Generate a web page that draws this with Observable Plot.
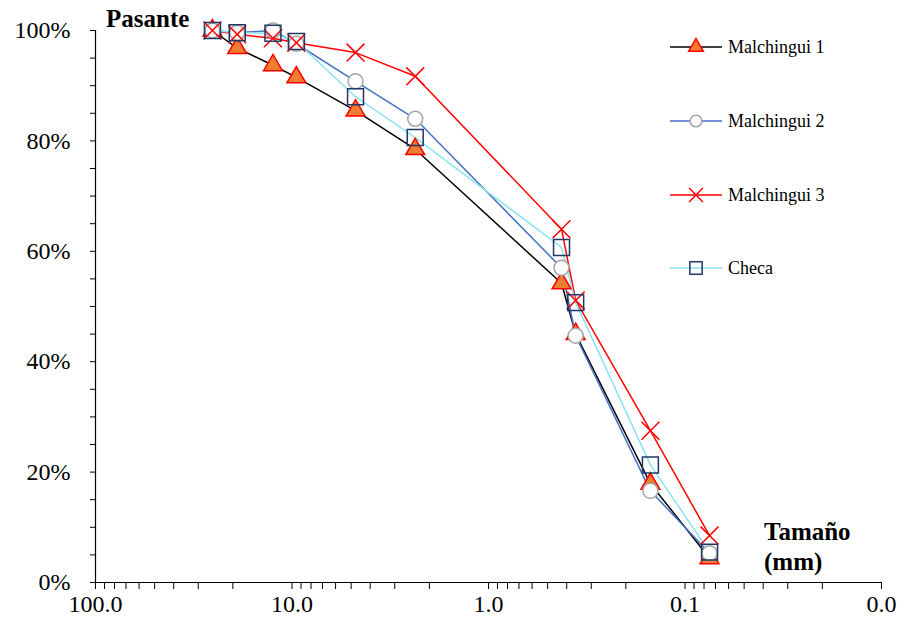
<!DOCTYPE html>
<html>
<head>
<meta charset="utf-8">
<script src="https://cdn.jsdelivr.net/npm/d3@7"></script>
<script src="https://cdn.jsdelivr.net/npm/@observablehq/plot@0.6"></script>
<style>
  html, body { margin: 0; padding: 0; background: #fff; }
  #wrap { position: relative; width: 901px; height: 627px; font-family: "Liberation Serif", "DejaVu Serif", serif; }
  #wrap svg text { font-family: "Liberation Serif", "DejaVu Serif", serif !important; }
  .title { position: absolute; font-weight: bold; font-size: 25px; color: #000; line-height: 30px; }
  #legend { position: absolute; left: 668px; top: 0; }
  .lg { position: absolute; left: 0; width: 230px; height: 24px; display: flex; align-items: center; font-size: 18px; color: #000; white-space: nowrap; }
  .lg svg { margin-right: 4px; }
</style>
</head>
<body>
<div id="wrap"></div>
<script>
// ---- data ----
const sizes = [25.4, 19.0, 12.5, 9.5, 4.75, 2.36, 0.425, 0.36, 0.15, 0.075];
const malchingui1 = [100, 96.8, 93.7, 91.5, 85.5, 78.5, 54.2, 45.0, 17.9, 4.4];
const malchingui2 = [100, 99.6, 100, 97.6, 90.8, 84.0, 57.0, 44.7, 16.6, 5.3];
const malchingui3 = [100, 99.3, 98.6, 97.8, 96.0, 91.7, 64.0, 51.1, 27.5, 8.5];
const checa = [100, 99.6, 99.5, 98.0, 88.0, 80.6, 60.7, 50.7, 21.3, 5.5];
const seriesNames = ["Malchingui 1", "Malchingui 2", "Malchingui 3", "Checa"];
const xMajorTicks = [100, 10, 1, 0.1, 0.01];
const xTickLabels = ["100.0", "10.0", "1.0", "0.1", "0.0"];
const yMajorTicks = [0, 20, 40, 60, 80, 100];
const yTickLabels = ["0%", "20%", "40%", "60%", "80%", "100%"];

// ---- styles ----
const styles = {
  "Malchingui 1": {line: "#000000", symbol: "triangle", fill: "#ED7D31", stroke: "#FF0000", r: 7},
  "Malchingui 2": {line: "#4472C4", symbol: "circle", fill: "#FFFFFF", stroke: "#A6A6A6", r: 7.5},
  "Malchingui 3": {line: "#FF0000", symbol: "times", fill: "none", stroke: "#FF0000", r: 8.2},
  "Checa": {line: "#8EE3EF", symbol: "square", fill: "none", stroke: "#203864", r: 9}
};

const allValues = [malchingui1, malchingui2, malchingui3, checa];
const rows = [];
seriesNames.forEach((s, i) => sizes.forEach((x, j) => rows.push({series: s, size: x, pct: allValues[i][j]})));

// minor ticks
const xTicks = [];
for (let e = -2; e <= 1; e++) for (let k = 1; k <= 9; k++) xTicks.push(k * Math.pow(10, e));
xTicks.push(100);
const yTicks = d3.range(0, 101, 5);

const serif = "Liberation Serif";
const lineMarks = seriesNames.map(s => Plot.line(rows.filter(d => d.series === s), {x: "size", y: "pct", stroke: styles[s].line, strokeWidth: 1.5}));
const dotMarks = seriesNames.map(s => Plot.dot(rows.filter(d => d.series === s), {
  x: "size", y: "pct", symbol: styles[s].symbol, r: styles[s].r,
  fill: styles[s].fill, stroke: styles[s].stroke, strokeWidth: 1.5
}));

const chart = Plot.plot({
  width: 901, height: 627,
  marginLeft: 95, marginRight: 20, marginTop: 30, marginBottom: 45,
  style: {fontFamily: serif, fontSize: "24px", color: "#000", background: "#fff", overflow: "visible"},
  x: {type: "log", domain: [100, 0.01]},
  y: {domain: [0, 100]},
  marks: [
    Plot.axisY({ticks: yTicks, tickFormat: d => { const i = yMajorTicks.indexOf(d); return i >= 0 ? yTickLabels[i] : ""; },
      tickSize: 5, tickPadding: 20, label: null, fontSize: 24, fontFamily: serif, stroke: "#000"}),
    Plot.axisX({ticks: xTicks, tickFormat: d => { const i = xMajorTicks.findIndex(v => Math.abs(v - d) < 1e-9); return i >= 0 ? xTickLabels[i] : ""; },
      tickSize: 7, tickPadding: 5, label: null, fontSize: 24, fontFamily: serif, stroke: "#000"}),
    Plot.ruleX([100], {stroke: "#000", strokeWidth: 1.2}),
    Plot.ruleY([0], {stroke: "#000", strokeWidth: 1.2}),
    ...lineMarks,
    ...dotMarks
  ]
});

const wrap = document.getElementById("wrap");
wrap.appendChild(chart);

// titles
const t1 = document.createElement("div");
t1.className = "title"; t1.textContent = "Pasante";
t1.style.left = "106px"; t1.style.top = "4px";
wrap.appendChild(t1);
const t2 = document.createElement("div");
t2.className = "title"; t2.innerHTML = "Tamaño<br>(mm)";
t2.style.left = "764px"; t2.style.top = "517px";
wrap.appendChild(t2);

// legend
const legend = document.createElement("div");
legend.id = "legend";
wrap.appendChild(legend);
const legendY = [47, 121, 195, 268];
const symMap = {triangle: d3.symbolTriangle, circle: d3.symbolCircle, times: d3.symbolTimes, square: d3.symbolSquare};
seriesNames.forEach((s, i) => {
  const st = styles[s];
  const row = document.createElement("div");
  row.className = "lg";
  row.style.top = (legendY[i] - 12) + "px";
  const svg = d3.create("svg").attr("width", 56).attr("height", 24);
  svg.append("line").attr("x1", 2).attr("x2", 54).attr("y1", 12).attr("y2", 12).attr("stroke", st.line).attr("stroke-width", 1.5);
  const size = st.r * st.r * Math.PI * 0.6;
  svg.append("path").attr("d", d3.symbol(symMap[st.symbol], size)()).attr("transform", "translate(28,12)")
    .attr("fill", st.fill).attr("stroke", st.stroke).attr("stroke-width", 1.5);
  row.appendChild(svg.node());
  const span = document.createElement("span");
  span.textContent = s;
  row.appendChild(span);
  legend.appendChild(row);
});
</script>
</body>
</html>
